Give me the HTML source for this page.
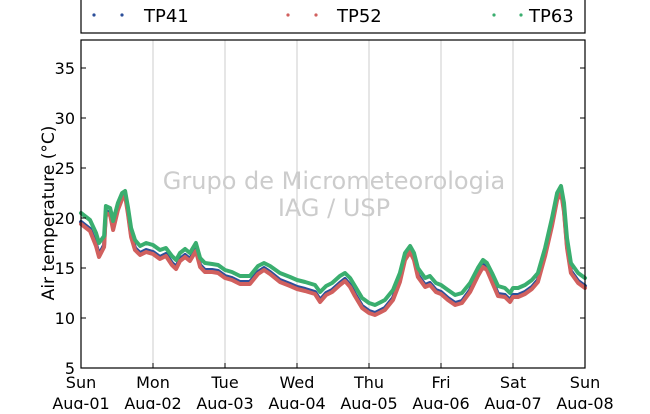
<!DOCTYPE html>
<html><head><meta charset="utf-8"><style>
body{margin:0;background:#fff;}
svg text{font-family:"DejaVu Sans","Liberation Sans",sans-serif;}
</style></head><body>
<svg id="chart" width="650" height="409" xmlns="http://www.w3.org/2000/svg">
<g id="grid"></g>
<g>
<text x="334" y="189" text-anchor="middle" font-size="24" fill="#cccccc">Grupo de Micrometeorologia</text>
<text x="334" y="216" text-anchor="middle" font-size="24" fill="#cccccc">IAG / USP</text>
</g>
<g id="series"></g>
<rect x="81" y="40" width="504" height="328" fill="none" stroke="#000" stroke-width="1.2"/>
<g id="axes"></g>
<text transform="translate(54,213) rotate(-90)" text-anchor="middle" font-size="17">Air temperature (°C)</text>
<g>
<rect x="81" y="-5" width="504" height="38" fill="#fff" stroke="#000" stroke-width="1.2"/>
<g><circle cx="94" cy="15" r="1.6" fill="#2c4f9a"/><circle cx="122" cy="15" r="1.6" fill="#2c4f9a"/><text x="144" y="22" font-size="18">TP41</text></g>
<g><circle cx="288" cy="15" r="1.6" fill="#d1605e"/><circle cx="316" cy="15" r="1.6" fill="#d1605e"/><text x="337" y="22" font-size="18">TP52</text></g>
<g><circle cx="494" cy="15" r="1.6" fill="#3aae6f"/><circle cx="521" cy="15" r="1.6" fill="#3aae6f"/><text x="529" y="22" font-size="18">TP63</text></g>
</g>
</svg>
<script>
const hours=[0,3,5,6,7.7,8.3,9.7,10.7,12.3,13.7,14.7,15.7,16.7,18,19.7,21.7,24,
26.3,28.3,30.3,31.7,33,34.7,36.3,38.3,39.7,41.3,43.7,45.7,48,
50.3,53,56.3,59,61,63,66.3,69.7,72,
74.7,78,79.7,81.7,83.7,86.3,88,89.7,91.3,93.7,96,
98,101.3,104,106.3,108,109.7,111,112.3,114.7,116.3,118.3,120,
122.3,124.7,127,129.7,132.3,134,135.3,137,139,141.3,143,144,
145.7,148,150.3,152.3,154.7,157,158.7,160,161,162,163.3,165.7,168];
const tp63=[20.5,19.8,18.5,17.5,18.2,21.2,21,19.7,21.5,22.5,22.7,21,19,17.8,17.2,17.5,17.3,
16.8,17,16.2,15.8,16.5,16.9,16.5,17.5,16,15.5,15.4,15.3,14.8,
14.6,14.2,14.2,15.2,15.5,15.2,14.5,14.1,13.8,
13.6,13.3,12.6,13.2,13.5,14.2,14.5,14,13.2,12,11.5,
11.3,11.8,12.8,14.5,16.5,17.2,16.5,15,14,14.2,13.5,13.3,
12.8,12.3,12.5,13.5,15,15.8,15.5,14.5,13.2,13,12.5,13,
13,13.3,13.8,14.5,17,20,22.5,23.2,21.5,18,15.5,14.5,14];
const tp41=[19.6,18.9,17.4,16.3,17.3,20.7,20.5,19,21,22.1,22.4,20.5,18.3,17,16.5,16.8,16.6,
16.1,16.4,15.5,15.1,15.9,16.3,15.9,16.9,15.3,14.8,14.8,14.7,14.2,
14,13.6,13.6,14.6,15,14.6,13.8,13.4,13.1,
12.9,12.6,11.8,12.5,12.8,13.5,13.9,13.3,12.4,11.2,10.7,
10.5,11,12,13.8,16,16.8,16,14.3,13.3,13.5,12.8,12.6,
12,11.5,11.7,12.8,14.4,15.3,15,13.8,12.4,12.3,11.8,12.3,
12.3,12.6,13.1,13.8,16.4,19.4,22,22.8,20.8,17.2,14.7,13.7,13.2];
const tp52=[19.4,18.7,17.2,16.1,17.1,20.5,20.3,18.8,20.8,21.9,22.2,20.3,18.1,16.8,16.3,16.6,16.4,
15.9,16.2,15.3,14.9,15.7,16.1,15.7,16.7,15.1,14.6,14.6,14.5,14,
13.8,13.4,13.4,14.4,14.8,14.4,13.6,13.2,12.9,
12.7,12.4,11.6,12.3,12.6,13.3,13.7,13.1,12.2,11,10.5,
10.3,10.8,11.8,13.6,15.8,16.6,15.8,14.1,13.1,13.3,12.6,12.4,
11.8,11.3,11.5,12.6,14.2,15.1,14.8,13.6,12.2,12.1,11.6,12.1,
12.1,12.4,12.9,13.6,16.2,19.2,21.8,22.6,20.6,17,14.5,13.5,13];
const yTicks=[5,10,15,20,25,30,35];
const dayLabels=["Sun","Mon","Tue","Wed","Thu","Fri","Sat","Sun"];
const dateLabels=["Aug-01","Aug-02","Aug-03","Aug-04","Aug-05","Aug-06","Aug-07","Aug-08"];
const NS="http://www.w3.org/2000/svg";
const X0=81,X1=585,Y0=368,Y1=40,XMAX=168,YMIN=5,YMAX=37.8;
const xs=h=>X0+(h/XMAX)*(X1-X0);
const ys=v=>Y0-(v-YMIN)/(YMAX-YMIN)*(Y0-Y1);
function mk(tag,attrs,parent){const e=document.createElementNS(NS,tag);for(const k in attrs)e.setAttribute(k,attrs[k]);parent.appendChild(e);return e;}
const grid=document.getElementById('grid'),axes=document.getElementById('axes'),ser=document.getElementById('series');
dayLabels.forEach((d,i)=>{
  const x=xs(i*24);
  if(i>0&&i<7){const g=mk('line',{x1:x,x2:x,y1:Y1,y2:Y0,stroke:'#cccccc','stroke-width':1},grid);
  
  }
  const t=mk('line',{x1:x,x2:x,y1:Y0,y2:Y0-5,stroke:'#000'},axes);
  
  
  const l=mk('text',{x:x,y:388,'text-anchor':'middle','font-size':16},axes);l.textContent=d;
  
  
  const l2=mk('text',{x:x,y:409,'text-anchor':'middle','font-size':16},axes);l2.textContent=dateLabels[i];
  
  
});
yTicks.forEach(v=>{
  const y=ys(v);
  const t=mk('line',{x1:X0,x2:X0+5,y1:y,y2:y,stroke:'#000'},axes);
  
  
  const t2=mk('line',{x1:X1,x2:X1-5,y1:y,y2:y,stroke:'#000'},axes);
  
  
  const l=mk('text',{x:75,y:y+6,'text-anchor':'end','font-size':16},axes);l.textContent=v;
  
  
});
[[tp41,'#2c4f9a','series-tp41'],[tp52,'#d1605e','series-tp52'],[tp63,'#3aae6f','series-tp63']].forEach(([arr,c,n])=>{
  const pts=arr.map((v,i)=>xs(hours[i]).toFixed(1)+','+ys(v).toFixed(1)).join(' ');
  const p=mk('polyline',{points:pts,fill:'none',stroke:c,'stroke-width':4,'stroke-linejoin':'round','stroke-linecap':'round'},ser);
  
  
});
</script>
</body></html>
